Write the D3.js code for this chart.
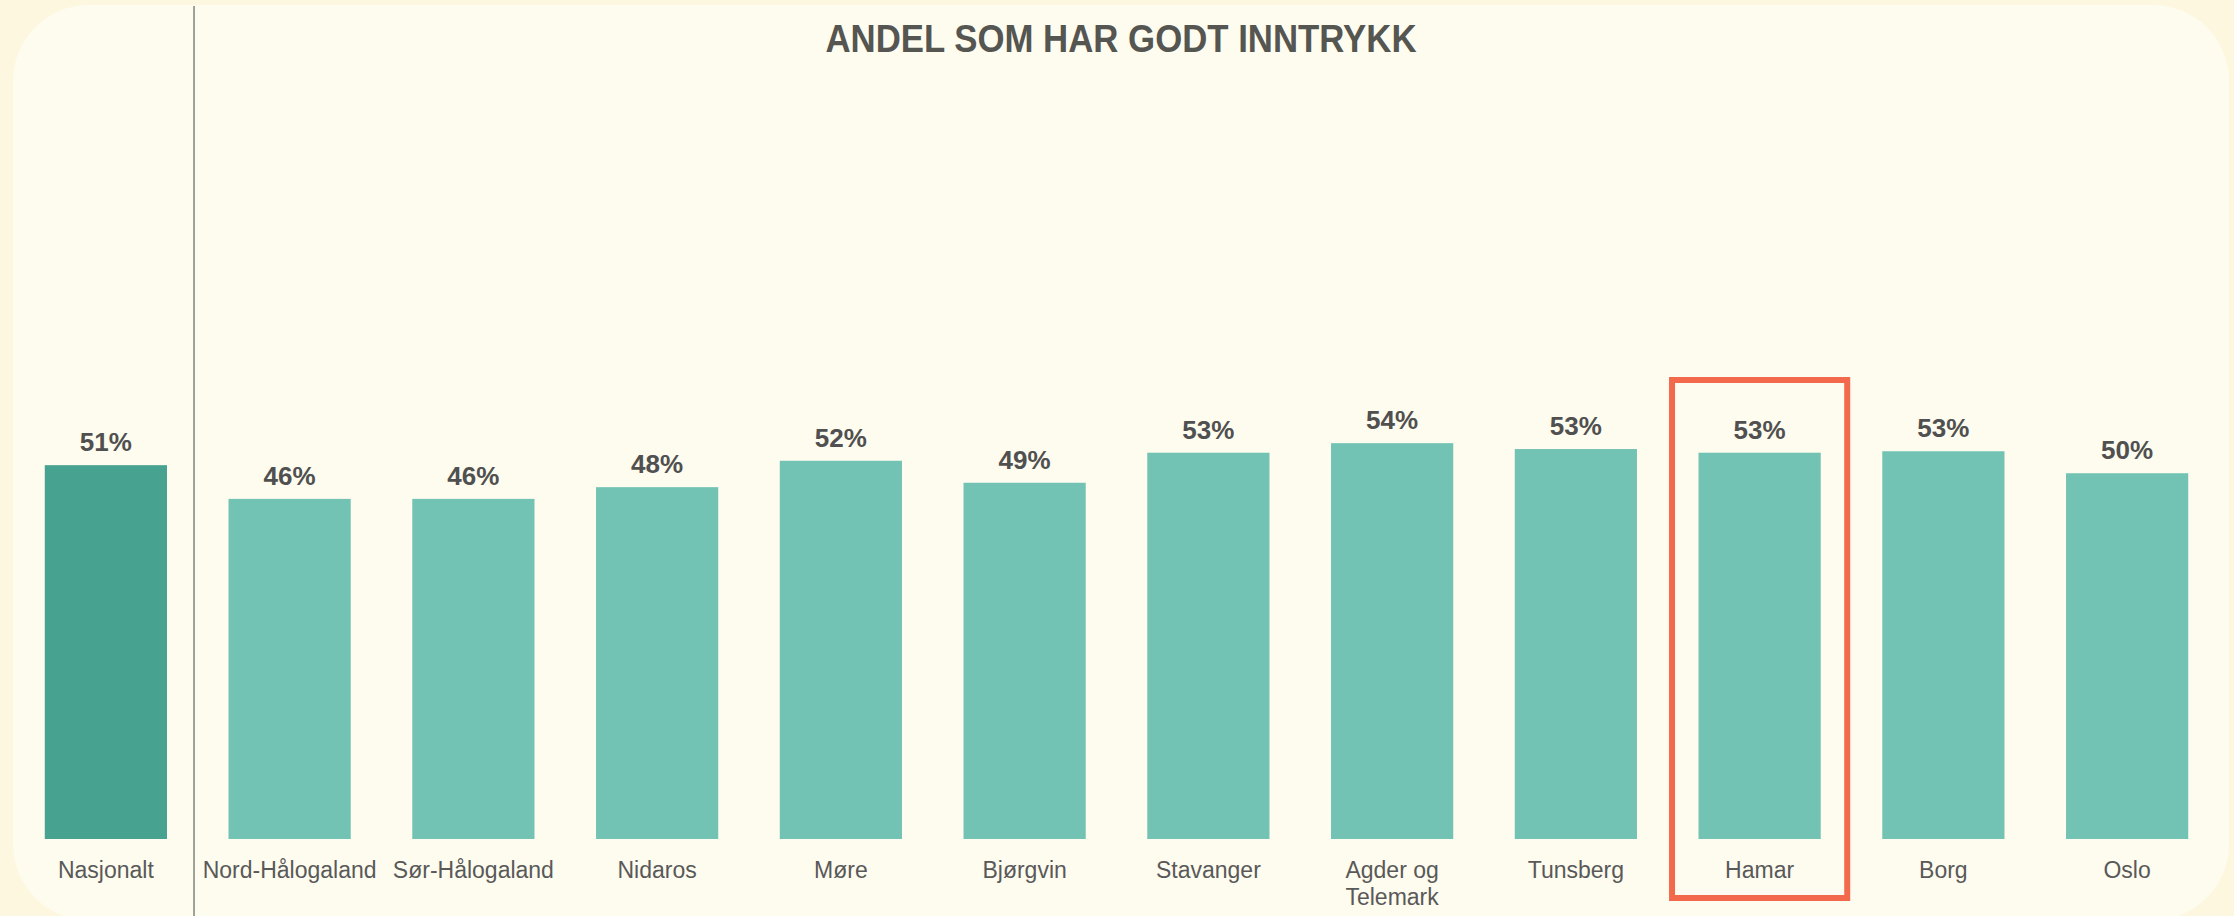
<!DOCTYPE html>
<html>
<head>
<meta charset="utf-8">
<script src="https://cdn.jsdelivr.net/npm/d3@7"></script>
<style>
  html, body { margin: 0; padding: 0; background: #FEF7DF; }
  svg { display: block; }
</style>
</head>
<body>
<div id="chart"></div>
<script>
const categories = ['Nasjonalt', 'Nord-Hålogaland', 'Sør-Hålogaland', 'Nidaros', 'Møre', 'Bjørgvin',
  'Stavanger', 'Agder og Telemark', 'Tunsberg', 'Hamar', 'Borg', 'Oslo'];
const values = [51.0, 46.4, 46.4, 48.0, 51.6, 48.6, 52.7, 54.0, 53.2, 52.7, 52.9, 49.9];
const labelLines = {'Agder og Telemark': ['Agder og', 'Telemark']};
const highlight = 'Hamar';
const title = 'ANDEL SOM HAR GODT INNTRYKK';

const W = 2234, H = 916;
const svg = d3.select('#chart').append('svg')
  .attr('width', W).attr('height', H)
  .style('font-family', "'Liberation Sans', Arial, sans-serif");

// outer bg + rounded panel
svg.append('rect').attr('width', W).attr('height', H).attr('fill', '#FEF7DF');
svg.append('rect')
  .attr('x', 13).attr('y', 5).attr('width', 2216).attr('height', 915)
  .attr('rx', 76).attr('ry', 76)
  .attr('fill', '#FEFCEF');

const x = d3.scaleBand()
  .domain(categories)
  .range([14, 2219])
  .paddingInner(0.335)
  .paddingOuter(0.1675);

const y = d3.scaleLinear().domain([0, 100]).range([839, 106]);

// separator between national and regions
const sepX = x(categories[1]) - 34.5;
svg.append('line')
  .attr('x1', sepX).attr('x2', sepX)
  .attr('y1', 6).attr('y2', H)
  .attr('stroke', '#8A8C84').attr('stroke-width', 1.6);

svg.append('text')
  .attr('x', 1121).attr('y', 52)
  .attr('text-anchor', 'middle')
  .attr('textLength', 591).attr('lengthAdjust', 'spacingAndGlyphs')
  .style('font-size', '39px').style('font-weight', 700)
  .attr('fill', '#555551')
  .text(title);

const data = categories.map((c, i) => ({ cat: c, value: values[i] }));

svg.selectAll('.bar')
  .data(data)
  .join('rect')
  .attr('class', 'bar')
  .attr('x', d => x(d.cat))
  .attr('y', d => y(d.value))
  .attr('width', x.bandwidth())
  .attr('height', d => y(0) - y(d.value))
  .attr('fill', (d, i) => i === 0 ? '#47A28F' : '#72C3B4');

// value labels
svg.selectAll('.val')
  .data(data)
  .join('text')
  .attr('class', 'val')
  .attr('x', d => x(d.cat) + x.bandwidth() / 2)
  .attr('y', d => y(d.value) - 14)
  .attr('text-anchor', 'middle')
  .style('font-size', '26px').style('font-weight', 700)
  .attr('fill', '#505050')
  .text(d => Math.round(d.value) + '%');

// category labels
const cats = svg.selectAll('.cat')
  .data(data)
  .join('text')
  .attr('class', 'cat')
  .attr('x', d => x(d.cat) + x.bandwidth() / 2)
  .attr('y', 878)
  .attr('text-anchor', 'middle')
  .style('font-size', '23px')
  .attr('fill', '#595959');

cats.each(function(d) {
  const lines = labelLines[d.cat] || [d.cat];
  const t = d3.select(this);
  lines.forEach((ln, i) => {
    t.append('tspan')
      .attr('x', x(d.cat) + x.bandwidth() / 2)
      .attr('dy', i === 0 ? 0 : 27)
      .text(ln);
  });
});

// highlight box
svg.append('rect')
  .attr('x', x(highlight) - 26.5)
  .attr('y', 380)
  .attr('width', x.bandwidth() + 53)
  .attr('height', 518)
  .attr('fill', 'none')
  .attr('stroke', '#F26A4B')
  .attr('stroke-width', 6);
</script>
</body>
</html>
